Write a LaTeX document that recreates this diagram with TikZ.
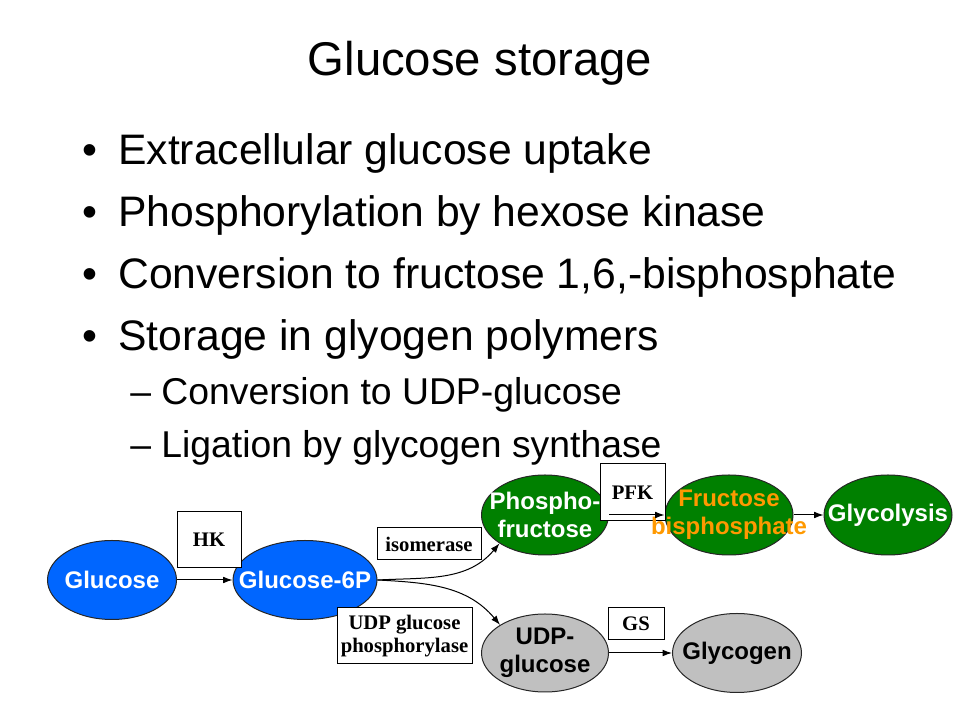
\documentclass[tikz,border=0pt]{standalone}
\usepackage{fontspec}
\setmainfont{Liberation Sans}
\newfontfamily\enzfont{Liberation Serif}
\usetikzlibrary{shapes.geometric,arrows.meta}
\definecolor{glcblue}{RGB}{0,102,255}
\definecolor{pathgreen}{RGB}{0,128,0}
\definecolor{storegray}{RGB}{192,192,192}
\definecolor{fbporange}{RGB}{255,153,0}

\begin{document}
\begin{tikzpicture}[x=0.75pt,y=0.75pt,
        oval/.style={ellipse,draw=black!85,line width=0.75pt,inner sep=0pt},
        ovaltext/.style={align=center,inner sep=0pt,font=\bfseries\fontsize{18}{21}\selectfont},
        enzyme/.style={draw,fill=white,line width=0.75pt,align=center,inner sep=0pt,
            font=\enzfont\bfseries\fontsize{15.5}{17.5}\selectfont},
        point/.style={anchor=base west,inner sep=0pt,font=\fontsize{32}{38}\selectfont},
        subpoint/.style={anchor=base west,inner sep=0pt,font=\fontsize{28}{33}\selectfont},
        reaction/.style={-{Latex[length=7pt,width=5pt]},line width=0.75pt}]
    \useasboundingbox (0,0) rectangle (960,720);
    \node[anchor=base,inner sep=0pt,font=\fontsize{35.5}{42}\selectfont] (title) at (480,644) {Glucose storage};
    \node[point] (dot1) at (82,555) {•};
    \node[point] (dot2) at (82,493) {•};
    \node[point] (dot3) at (82,431) {•};
    \node[point] (dot4) at (82,369) {•};
    \node[point] (item1) at (118,555) {Extracellular glucose uptake};
    \node[point] (item2) at (118,493) {Phosphorylation by hexose kinase};
    \node[point] (item3) at (118,431) {Conversion to fructose 1,6,-bisphosphate};
    \node[point] (item4) at (118,369) {Storage in glyogen polymers};
    \node[subpoint] (sub1) at (130,315) {– Conversion to UDP-glucose};
    \node[subpoint] (sub2) at (130,262) {– Ligation by glycogen synthase};
    \node[oval,fill=glcblue,minimum width=96.75pt,minimum height=59.25pt] (glc) at (112,140) {};
    \node[oval,fill=glcblue,minimum width=108pt,minimum height=59.25pt] (g6p) at (305,140) {};
    \node[oval,fill=pathgreen,minimum width=95.25pt,minimum height=60pt] (pfr) at (545,205) {};
    \node[oval,fill=pathgreen,minimum width=96pt,minimum height=60pt] (fbp) at (729,205) {};
    \node[oval,fill=pathgreen,minimum width=96pt,minimum height=60pt] (gly) at (888,205) {};
    \node[oval,fill=storegray,minimum width=95.25pt,minimum height=58.5pt] (udpg) at (545,67) {};
    \node[oval,fill=storegray,minimum width=96.75pt,minimum height=59.25pt] (glyc) at (737,67) {};
    \node[enzyme,minimum width=48pt,minimum height=42pt] (hk) at (209,180) {HK};
    \node[enzyme,minimum width=78pt,minimum height=24pt] (iso) at (429,176) {isomerase};
    \node[enzyme,minimum width=101.25pt,minimum height=42pt] (udpp) at (404.5,84) {UDP glucose\\phosphorylase};
    \node[enzyme,minimum width=48.75pt,minimum height=42.75pt] (pfk) at (632.5,227.5) {PFK};
    \node[enzyme,minimum width=42pt,minimum height=24pt] (gs) at (636,96) {GS};
    \node[ovaltext,white] (glct) at (glc) {Glucose};
    \node[ovaltext,white] (g6pt) at (g6p) {Glucose-6P};
    \node[ovaltext,white] (pfrt) at (pfr) {Phospho-\\fructose};
    \node[ovaltext,fbporange] (fbpt) at (fbp) {Fructose\\bisphosphate};
    \node[ovaltext,white] (glyt) at (gly) {Glycolysis};
    \node[ovaltext] (udpgt) at (udpg) {UDP-\\glucose};
    \node[ovaltext] (glyct) at (glyc) {Glycogen};
    \draw[reaction] (glc) -- (g6p);
    \draw[reaction] (pfr) -- (fbp);
    \draw[reaction] (fbp) -- (gly);
    \draw[reaction] (udpg) -- (glyc);
    \draw[reaction] (g6p.east) to[out=3,in=230] (pfr.212);
    \draw[reaction] (g6p.east) to[out=-3,in=130] (udpg.148);
\end{tikzpicture}
\end{document}
